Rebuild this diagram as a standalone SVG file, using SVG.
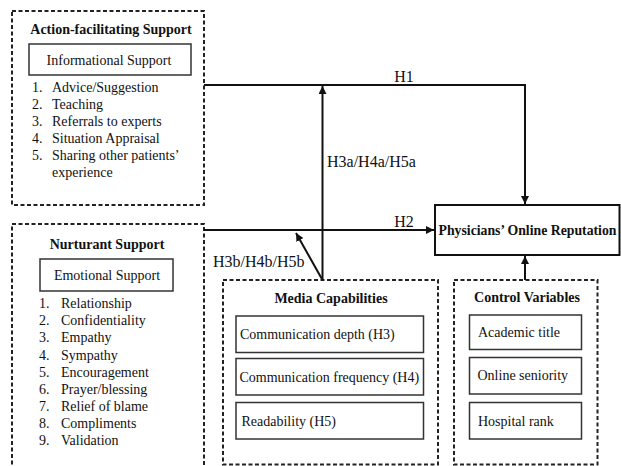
<svg xmlns="http://www.w3.org/2000/svg" width="621" height="466" viewBox="0 0 621 466">
<defs>
<style>
text{font-family:"Liberation Serif","Times New Roman",serif;font-size:14px;fill:#111}
.b{font-weight:bold}
.c{text-anchor:middle}
.h{font-size:16px}
.dash{fill:none;stroke:#222;stroke-width:2;stroke-dasharray:4 2.5}
.solid{fill:#fff;stroke:#333;stroke-width:1.5}
.conn{fill:none;stroke:#111;stroke-width:2}
</style>
<marker id="ah" viewBox="0 0 10 10" refX="10" refY="5" markerWidth="8" markerHeight="8" markerUnits="userSpaceOnUse" orient="auto">
<path d="M0,0 L10,5 L0,10 z" fill="#111"/>
</marker>
</defs>
<rect width="621" height="466" fill="#fff"/>

<g id="action">
<rect class="dash" x="12" y="11" width="192" height="194"/>
<text class="b c" x="111" y="34">Action-facilitating Support</text>
<rect class="solid" x="29" y="44" width="162" height="31"/>
<text class="c" x="109" y="65">Informational Support</text>
<text x="32" y="92">1.</text><text x="52" y="92">Advice/Suggestion</text>
<text x="32" y="109">2.</text><text x="52" y="109">Teaching</text>
<text x="32" y="126">3.</text><text x="52" y="126">Referrals to experts</text>
<text x="32" y="143">4.</text><text x="52" y="143">Situation Appraisal</text>
<text x="32" y="160">5.</text><text x="52" y="160">Sharing other patients’</text>
<text x="52" y="177">experience</text>
</g>

<g id="nurturant">
<rect class="dash" x="12" y="224" width="192" height="250"/>
<text class="b c" x="107" y="249">Nurturant Support</text>
<rect class="solid" x="40" y="259" width="133" height="32"/>
<text class="c" x="107" y="280">Emotional Support</text>
<text x="39" y="308">1.</text><text x="61" y="308">Relationship</text>
<text x="39" y="325">2.</text><text x="61" y="325">Confidentiality</text>
<text x="39" y="342">3.</text><text x="61" y="342">Empathy</text>
<text x="39" y="359.5">4.</text><text x="61" y="359.5">Sympathy</text>
<text x="39" y="376.5">5.</text><text x="61" y="376.5">Encouragement</text>
<text x="39" y="393.5">6.</text><text x="61" y="393.5">Prayer/blessing</text>
<text x="39" y="410.5">7.</text><text x="61" y="410.5">Relief of blame</text>
<text x="39" y="427.5">8.</text><text x="61" y="427.5">Compliments</text>
<text x="39" y="445">9.</text><text x="61" y="445">Validation</text>
</g>

<g id="reputation">
<rect x="435" y="205" width="184.5" height="50" fill="#fff" stroke="#111" stroke-width="2"/>
<text class="b c" x="527.5" y="235" textLength="178" lengthAdjust="spacingAndGlyphs">Physicians’ Online Reputation</text>
</g>

<g id="media">
<rect class="dash" x="223" y="280" width="215" height="184.5"/>
<text class="b c" x="331" y="303">Media Capabilities</text>
<rect class="solid" x="236" y="316" width="187.5" height="36.5"/>
<text x="240" y="339">Communication depth (H3)</text>
<rect class="solid" x="236" y="358.5" width="187.5" height="36.5"/>
<text x="239.5" y="381.5">Communication frequency (H4)</text>
<rect class="solid" x="236" y="402.5" width="187.5" height="36.5"/>
<text x="241.5" y="425.5">Readability (H5)</text>
</g>

<g id="control">
<rect class="dash" x="454" y="280" width="143.5" height="184.5"/>
<text class="b c" x="527" y="302">Control Variables</text>
<rect class="solid" x="469.5" y="315" width="112" height="34.5"/>
<text x="478" y="336.5">Academic title</text>
<rect class="solid" x="469.5" y="357.5" width="112" height="36.5"/>
<text x="477.5" y="380">Online seniority</text>
<rect class="solid" x="469.5" y="402.5" width="112" height="36.5"/>
<text x="478" y="425.5">Hospital rank</text>
</g>

<g id="connectors">
<path class="conn" d="M204,85 H525 V204" marker-end="url(#ah)"/>
<path class="conn" d="M204,230 H434" marker-end="url(#ah)"/>
<path class="conn" d="M322.5,280 V86" marker-end="url(#ah)"/>
<path class="conn" d="M322.5,280 L296,233" marker-end="url(#ah)"/>
<path class="conn" d="M525,280 V256" marker-end="url(#ah)"/>
<text class="h c" x="404" y="81.5">H1</text>
<text class="h c" x="404" y="226.5">H2</text>
<text class="h" x="327" y="167">H3a/H4a/H5a</text>
<text class="h" x="213" y="267">H3b/H4b/H5b</text>
</g>
</svg>
